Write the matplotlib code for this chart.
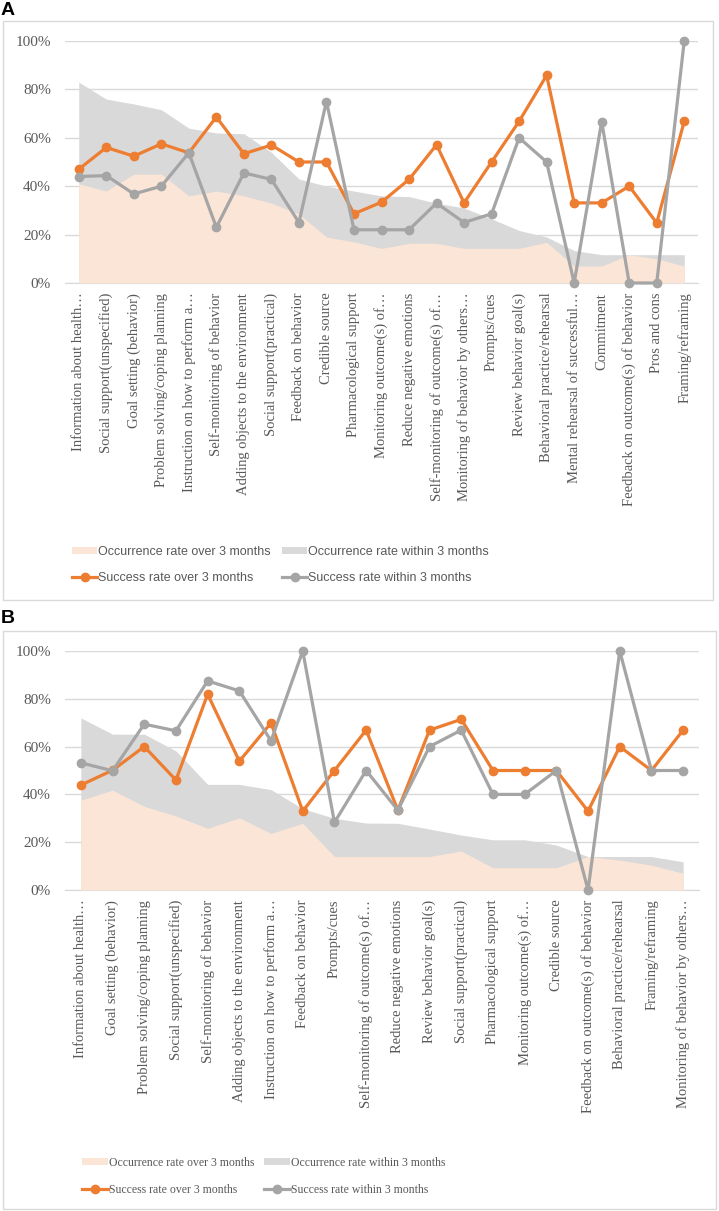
import matplotlib.pyplot as plt
from matplotlib.patches import Rectangle, Patch
from matplotlib.lines import Line2D
from matplotlib.ticker import PercentFormatter

# ---- Panel A data (values in %) ----
cats_a = ["Information about health…", "Social support(unspecified)", "Goal setting (behavior)",
          "Problem solving/coping planning", "Instruction on how to perform a…",
          "Self-monitoring of behavior", "Adding objects to the environment",
          "Social support(practical)", "Feedback on behavior", "Credible source",
          "Pharmacological support", "Monitoring outcome(s) of…", "Reduce negative emotions",
          "Self-monitoring of outcome(s) of…", "Monitoring of behavior by others…",
          "Prompts/cues", "Review behavior goal(s)", "Behavioral practice/rehearsal",
          "Mental rehearsal of successful…", "Commitment",
          "Feedback on outcome(s) of behavior", "Pros and cons", "Framing/reframing"]
occ_over_a = [41, 38, 45, 45, 36, 38, 36, 33, 28.5, 19, 17, 14.3, 16.4, 16.4, 14.3, 14.3,
              14.3, 16.8, 7, 7, 11.7, 10, 7]
occ_within_a = [83, 76, 74, 71.6, 64, 62, 61.7, 54, 43, 40, 38, 36, 35.7, 33, 31, 26.5,
                21.7, 19, 13.4, 11.7, 11.7, 11.7, 11.7]
succ_over_a = [47, 56, 52.4, 57.5, 53.8, 68.6, 53.4, 57, 50, 50, 28.6, 33.4, 42.8, 57.1,
               33.1, 50, 66.8, 85.8, 33.1, 33.1, 40, 24.8, 66.8]
succ_within_a = [44, 44.4, 36.8, 40, 53.8, 23, 45.5, 42.8, 25, 75, 22, 22, 22, 33, 25,
                 28.6, 60, 50, 0, 66.7, 0, 0, 100]

# ---- Panel B data (values in %) ----
cats_b = ["Information about health…", "Goal setting (behavior)",
          "Problem solving/coping planning", "Social support(unspecified)",
          "Self-monitoring of behavior", "Adding objects to the environment",
          "Instruction on how to perform a…", "Feedback on behavior", "Prompts/cues",
          "Self-monitoring of outcome(s) of…", "Reduce negative emotions",
          "Review behavior goal(s)", "Social support(practical)", "Pharmacological support",
          "Monitoring outcome(s) of…", "Credible source",
          "Feedback on outcome(s) of behavior", "Behavioral practice/rehearsal",
          "Framing/reframing", "Monitoring of behavior by others…"]
occ_over_b = [37.6, 41.8, 35, 31, 25.8, 30.2, 23.7, 27.9, 14, 14, 14, 14, 16.3, 9.3, 9.3,
              9.3, 14, 12.5, 10.4, 7]
occ_within_b = [72, 65.2, 65.2, 58.2, 44.2, 44.2, 42, 34, 30, 28, 27.9, 25.5, 23, 21, 21,
                18.8, 14, 14, 14, 11.8]
succ_over_b = [43.9, 50.1, 60, 46, 81.9, 53.9, 69.9, 33, 50, 66.9, 33.4, 66.9, 71.4, 50,
               50, 50, 33, 60, 50, 66.9]
succ_within_b = [53.2, 49.9, 69.4, 66.6, 87.5, 83.3, 62.4, 100, 28.3, 50, 33.4, 60, 66.9,
                 40, 40, 50, 0, 100, 50, 50]

ORANGE = '#ED7D31'
GREY = '#A5A5A5'
PEACH = '#FBE5D6'
LIGHT = '#D9D9D9'
TXT = '#595959'

W, H = 719, 1211
fig = plt.figure(figsize=(W / 100, H / 100), dpi=100)


def fx(px):
    return px / W


def fy(py):
    return 1 - py / H


def panel(rect, cats, occ_over, occ_within, succ_over, succ_within):
    ax = fig.add_axes(rect)
    x = list(range(len(cats)))
    ax.fill_between(x, 0, occ_within, color=LIGHT, lw=0, zorder=2)
    ax.fill_between(x, 0, occ_over, color=PEACH, lw=0, zorder=3)
    ax.plot(x, succ_over, color=ORANGE, lw=2.3, marker='o', ms=6, zorder=4, clip_on=False)
    ax.plot(x, succ_within, color=GREY, lw=2.3, marker='o', ms=6, zorder=5, clip_on=False)
    ax.set_xlim(-0.5, len(cats) - 0.5)
    ax.set_ylim(0, 100)
    ax.set_yticks([0, 20, 40, 60, 80, 100])
    ax.yaxis.set_major_formatter(PercentFormatter(decimals=0))
    ax.set_xticks(x)
    ax.set_xticklabels(cats, rotation=90, fontsize=10.5, color=TXT, family='Liberation Serif')
    for t in ax.get_yticklabels():
        t.set_family('Liberation Serif')
        t.set_color(TXT)
        t.set_fontsize(11)
    ax.tick_params(axis='both', length=0)
    ax.tick_params(axis='y', pad=10)
    ax.tick_params(axis='x', pad=7)
    ax.grid(axis='y', color=LIGHT, lw=1, zorder=1)
    ax.set_axisbelow(True)
    for s in ['top', 'left', 'right']:
        ax.spines[s].set_visible(False)
    ax.spines['bottom'].set_color(LIGHT)
    ax.spines['bottom'].set_zorder(1)
    return ax


ax_a = panel([fx(65), fy(283), fx(633), 242 / H], cats_a, occ_over_a, occ_within_a,
             succ_over_a, succ_within_a)
ax_b = panel([fx(65), fy(890), fx(634), 239 / H], cats_b, occ_over_b, occ_within_b,
             succ_over_b, succ_within_b)

# outer frames
fig.add_artist(Rectangle((fx(3), fy(600)), fx(710), 579 / H, transform=fig.transFigure,
                         fill=False, ec=LIGHT, lw=1))
fig.add_artist(Rectangle((fx(3), fy(1209)), fx(713), 578 / H, transform=fig.transFigure,
                         fill=False, ec=LIGHT, lw=1))
fig.text(fx(1), fy(2), 'A', fontsize=14, fontweight='bold', family='Liberation Sans', va='top')
fig.text(fx(1), fy(610), 'B', fontsize=14, fontweight='bold', family='Liberation Sans', va='top')

handles = [Patch(color=PEACH, lw=0),
           Line2D([], [], color=ORANGE, lw=2.3, marker='o', ms=6),
           Patch(color=LIGHT, lw=0),
           Line2D([], [], color=GREY, lw=2.3, marker='o', ms=6)]
labels = ['Occurrence rate over 3 months', 'Success rate over 3 months',
          'Occurrence rate within 3 months', 'Success rate within 3 months']

fig.legend(handles, labels, ncol=2, loc='upper left', bbox_to_anchor=(fx(72), fy(546)),
           frameon=False, borderpad=0, borderaxespad=0, handlelength=2.0, handleheight=0.55,
           handletextpad=0.1, columnspacing=0.9, labelspacing=1.15,
           prop={'family': 'Liberation Sans', 'size': 9}, labelcolor=TXT)
fig.legend(handles, labels, ncol=2, loc='upper left', bbox_to_anchor=(fx(82), fy(1157)),
           frameon=False, borderpad=0, borderaxespad=0, handlelength=2.2, handleheight=0.55,
           handletextpad=0.1, columnspacing=0.8, labelspacing=1.3,
           prop={'family': 'Liberation Serif', 'size': 8.5}, labelcolor=TXT)

fig.savefig('out.png', dpi=100)
